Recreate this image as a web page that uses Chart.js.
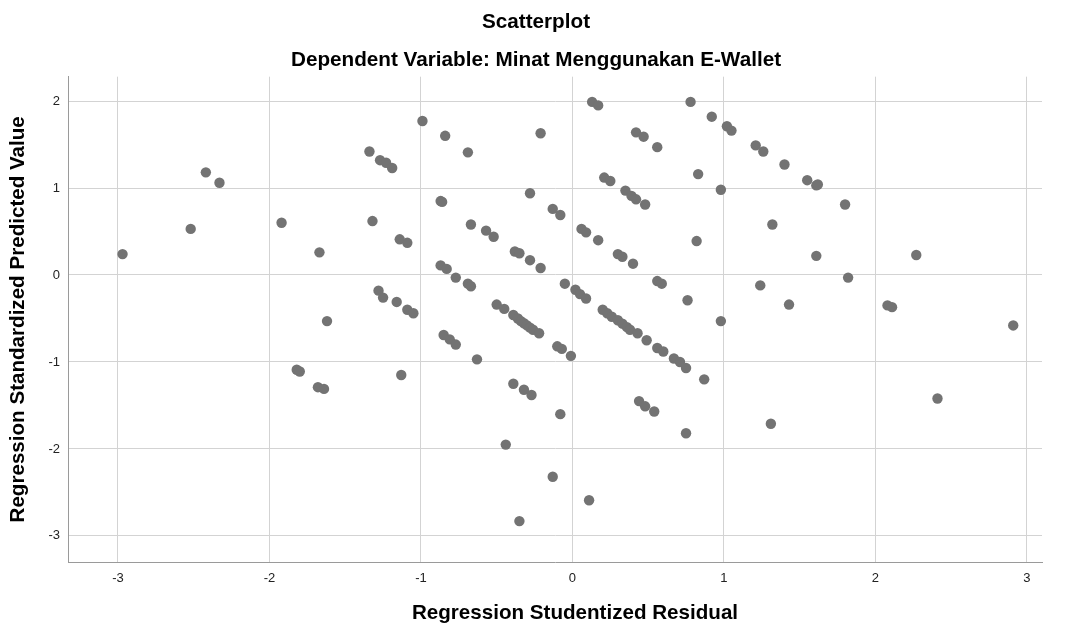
<!DOCTYPE html>
<html>
<head>
<meta charset="utf-8">
<script src="https://cdn.jsdelivr.net/npm/chart.js@4.4.1/dist/chart.umd.min.js"></script>
<style>
  html, body { margin: 0; padding: 0; background: #fff; }
  #wrap { width: 1071px; height: 626px; position: relative; }
</style>
</head>
<body>
<div id="wrap"><canvas id="scatter"></canvas></div>
<script>
const chartTitle = "Scatterplot";
const chartSubtitle = "Dependent Variable: Minat Menggunakan E-Wallet";
const xAxisTitle = "Regression Studentized Residual";
const yAxisTitle = "Regression Standardized Predicted Value";

// studentized residuals (x) and standardized predicted values (y)
const residuals = [
  -2.97, -2.52, -2.42, -2.33, -1.92, -1.67, -1.34, -1.27, -1.23, -1.19,
  -1.32, -1.14, -1.09, -1.28, -1.25, -1.16, -1.09, -1.05, -1.62, -0.99,
  -1.82, -1.80, -1.68, -1.64, -1.13, -0.84, -0.69, -0.21, 0.13, 0.17,
  0.78, 0.92, 1.02, 1.05, 0.42, 0.47, 0.56, 0.83, 0.98, 0.21,
  0.25, 0.35, 0.39, 0.42, 0.48, -0.28, -0.13, -0.08, -0.87, -0.86,
  -0.67, -0.57, -0.52, -0.38, -0.35, -0.28, -0.21, 0.06, 0.09, 0.17,
  0.30, 0.33, 0.40, 0.82, -0.87, -0.83, -0.77, -0.69, -0.67, -0.05,
  0.02, 0.05, 0.09, 0.56, 0.59, 0.76, 0.98, -0.50, -0.45, -0.39,
  -0.36, -0.34, -0.32, -0.30, -0.28, -0.26, -0.22, -0.85, -0.81, -0.77,
  -0.63, -0.10, -0.07, -0.01, -0.39, -0.32, -0.27, -0.08, -0.44, -0.13,
  0.11, -0.35, 0.20, 0.23, 0.26, 0.30, 0.33, 0.36, 0.38, 0.43,
  0.49, 0.56, 0.60, 0.67, 0.71, 0.75, 0.87, 0.44, 0.48, 0.54,
  0.75, 1.21, 1.26, 1.40, 1.55, 1.61, 1.62, 1.80, 1.32, 1.61,
  2.27, 1.24, 1.82, 1.43, 2.08, 2.11, 2.91, 2.41, 1.31
];
const predicted = [
  0.24, 0.53, 1.18, 1.06, 0.60, 0.26, 1.42, 1.32, 1.29, 1.23,
  0.62, 0.41, 0.37, -0.18, -0.26, -0.31, -0.40, -0.44, -0.53, 1.77,
  -1.09, -1.11, -1.29, -1.31, -1.15, 1.60, 1.41, 1.63, 1.99, 1.95,
  1.99, 1.82, 1.71, 1.66, 1.64, 1.59, 1.47, 1.16, 0.98, 1.12,
  1.08, 0.97, 0.91, 0.87, 0.81, 0.94, 0.76, 0.69, 0.85, 0.84,
  0.58, 0.51, 0.44, 0.27, 0.25, 0.17, 0.08, 0.53, 0.49, 0.40,
  0.24, 0.21, 0.13, 0.39, 0.11, 0.07, -0.03, -0.10, -0.13, -0.10,
  -0.17, -0.22, -0.27, -0.07, -0.10, -0.29, -0.53, -0.34, -0.39, -0.46,
  -0.50, -0.53, -0.555, -0.58, -0.605, -0.63, -0.67, -0.69, -0.74, -0.80,
  -0.97, -0.82, -0.85, -0.93, -1.25, -1.32, -1.38, -1.60, -1.95, -2.32,
  -2.59, -2.83, -0.40, -0.44, -0.48, -0.52, -0.56, -0.60, -0.63, -0.67,
  -0.75, -0.84, -0.88, -0.96, -1.00, -1.07, -1.20, -1.45, -1.51, -1.57,
  -1.82, 1.49, 1.42, 1.27, 1.09, 1.03, 1.04, 0.81, 0.58, 0.22,
  0.23, -0.12, -0.03, -0.34, -0.35, -0.37, -0.58, -1.42, -1.71
];

const xRange = [-3.33, 3.10];
const yRange = [-3.30, 2.28];

const fontFamily = "Arial, 'Liberation Sans', sans-serif";

const points = residuals.map((r, i) => ({ x: r, y: predicted[i] }));

// axis titles drawn by hand so they sit where the original puts them
const axisTitles = {
  id: "axisTitles",
  afterDraw(chart) {
    const { ctx, chartArea } = chart;
    ctx.save();
    ctx.fillStyle = "#000";
    ctx.font = "bold 20.6px " + fontFamily;
    ctx.textAlign = "center";
    ctx.textBaseline = "middle";
    ctx.fillText(xAxisTitle, (chartArea.left + chartArea.right) / 2 + 20, 613);
    ctx.translate(18, (chartArea.top + chartArea.bottom) / 2);
    ctx.rotate(-Math.PI / 2);
    ctx.fillText(yAxisTitle, 0, 0);
    ctx.restore();
  },
};

new Chart(document.getElementById("scatter"), {
  type: "scatter",
  data: {
    datasets: [
      {
        data: points,
        backgroundColor: "#737373",
        borderWidth: 0,
        pointRadius: 5.2,
        pointHoverRadius: 5.2,
      },
    ],
  },
  options: {
    responsive: true,
    maintainAspectRatio: false,
    animation: false,
    layout: { padding: { left: 30, right: 29, top: 0, bottom: 0 } },
    plugins: {
      legend: { display: false },
      tooltip: { enabled: false },
      title: {
        display: true,
        text: chartTitle,
        color: "#000",
        font: { family: fontFamily, size: 20.7, weight: "bold" },
        padding: { top: 10, bottom: 13 },
      },
      subtitle: {
        display: true,
        text: chartSubtitle,
        color: "#000",
        font: { family: fontFamily, size: 20.7, weight: "bold" },
        padding: { top: 0, bottom: 4 },
      },
    },
    scales: {
      x: {
        type: "linear",
        min: xRange[0],
        max: xRange[1],
        afterFit: (scale) => { scale.height = 64; },
        grid: { color: "#d3d3d3", lineWidth: 1, drawTicks: false },
        border: { color: "#9a9a9a", width: 1 },
        ticks: {
          stepSize: 1,
          includeBounds: false,
          padding: 9,
          color: "#222",
          font: { family: fontFamily, size: 13 },
        },
      },
      y: {
        type: "linear",
        min: yRange[0],
        max: yRange[1],
        afterFit: (scale) => { scale.width = 38; },
        grid: { color: "#d3d3d3", lineWidth: 1, drawTicks: false },
        border: { color: "#9a9a9a", width: 1 },
        ticks: {
          stepSize: 1,
          includeBounds: false,
          padding: 8,
          color: "#222",
          font: { family: fontFamily, size: 13 },
        },
      },
    },
  },
  plugins: [axisTitles],
});
</script>
</body>
</html>
